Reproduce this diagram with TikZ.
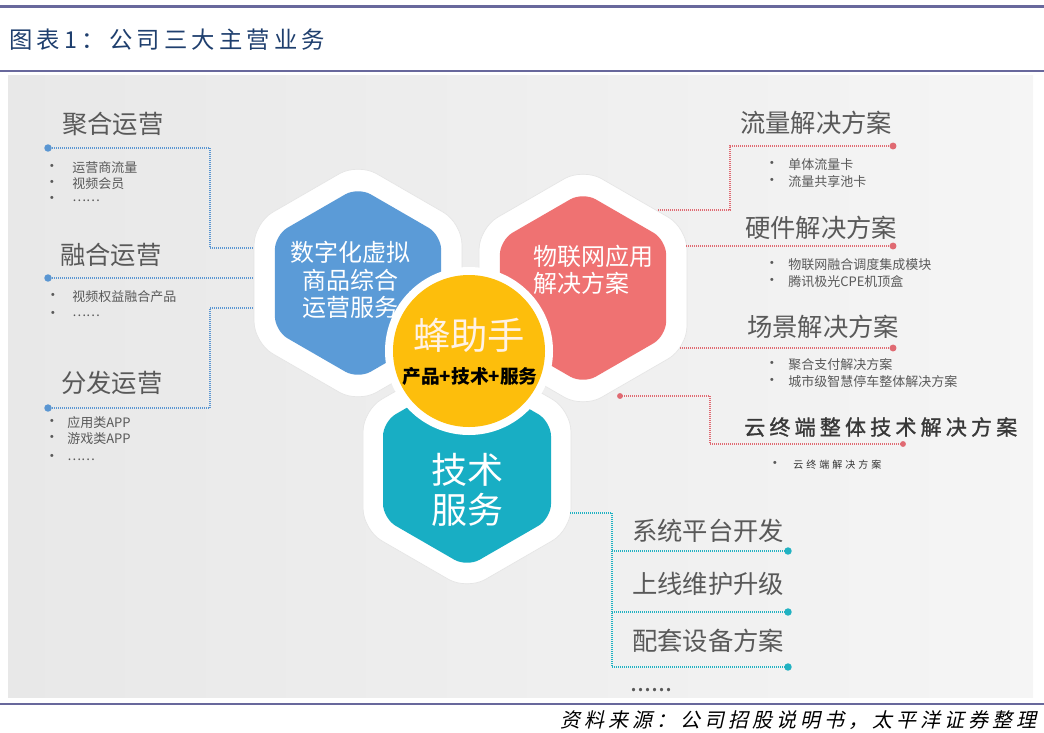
\documentclass[tikz,border=0pt]{standalone}
\usepackage{fontspec}
\newfontfamily\cjk{Noto Sans CJK SC}
\newfontfamily\cjktitle[LetterSpace=18]{Noto Sans CJK SC}
\newfontfamily\cjkfoot[LetterSpace=20,FakeSlant=0.22]{Noto Sans CJK SC}
\newfontfamily\cjkyun[LetterSpace=20,FakeBold=1.2]{Noto Sans CJK SC}
\newfontfamily\cjkyunsmall[LetterSpace=30]{Noto Sans CJK SC}
\definecolor{rulecol}{HTML}{68689C}
\definecolor{titlecol}{HTML}{1F3F6E}
\definecolor{txtgray}{HTML}{595959}
\definecolor{lineblue}{HTML}{5A96D2}
\definecolor{linered}{HTML}{E06A72}
\definecolor{lineteal}{HTML}{22B2C2}
\definecolor{hexblue}{HTML}{5B9BD7}
\definecolor{hexred}{HTML}{EF7272}
\definecolor{hexteal}{HTML}{18AEC4}
\definecolor{hexorange}{HTML}{FDBE0C}
\newcommand\hexpathof[3]{% center coordinate, radius, options
  \path[#3] ([shift={(#1)}]0:{0.866*#2}) -- ([shift={(#1)}]30:#2) -- ([shift={(#1)}]90:#2)
    -- ([shift={(#1)}]150:#2) -- ([shift={(#1)}]210:#2) -- ([shift={(#1)}]270:#2)
    -- ([shift={(#1)}]330:#2) -- cycle;}
\begin{document}
\begin{tikzpicture}[x=0.75pt,y=-0.75pt,
  dotline/.style={line width=1.2pt, dash pattern=on 0.75pt off 0.75pt},
  blueln/.style={dotline, draw=lineblue},
  redln/.style={dotline, draw=linered},
  tealln/.style={dotline, draw=lineteal},
  head/.style={font={\cjk\fontsize{19pt}{22pt}\selectfont}, text=txtgray, anchor=west, inner sep=0pt},
  item/.style={font={\cjk\fontsize{9.75pt}{12pt}\selectfont}, text=txtgray, anchor=west, inner sep=0pt},
  bul/.style={font={\cjk\fontsize{11pt}{12pt}\selectfont}, text=txtgray, inner sep=0pt},
  outerhex/.style={fill=white, draw=black!10, line width=0.5pt, rounded corners=16pt},
  innerhex/.style={rounded corners=11pt},
  hextext/.style={font={\cjk\fontsize{18pt}{20.6pt}\selectfont}, text=white, inner sep=0pt},
]
\path[use as bounding box] (0,0) rectangle (1044,732);
% rules and panel
\draw[rulecol, line width=2.3pt] (0,6.5) -- (1044,6.5);
\draw[rulecol, line width=1.8pt] (0,71) -- (1044,71);
\draw[rulecol, line width=1.8pt] (0,704) -- (1044,704);
\shade[left color=black!9, right color=black!4] (8,75) rectangle (1033,697);
\node[font={\cjktitle\fontsize{17.5pt}{19pt}\selectfont}, text=titlecol, anchor=west, inner sep=0pt] (title) at (9,40) {图表1：公司三大主营业务};
\node[font={\cjkfoot\fontsize{15pt}{17pt}\selectfont}, text=black, anchor=east, inner sep=0pt] (source) at (1037,720) {资料来源：公司招股说明书，太平洋证券整理};

% hex centers
\coordinate (hb) at (358,283);
\coordinate (hr) at (583,288);
\coordinate (ht) at (467,470);
\coordinate (cc) at (469,351);

% outer white hexes
\hexpathof{hb}{120}{outerhex}
\hexpathof{hr}{120}{outerhex}
\hexpathof{ht}{120}{outerhex}
% inner coloured hexes
\hexpathof{hb}{96}{innerhex, fill=hexblue}
\hexpathof{hr}{96}{innerhex, fill=hexred}
\hexpathof{ht}{97}{innerhex, fill=hexteal}

\node[hextext, align=center] (tb) at (350,280) {数字化虚拟\\商品综合\\运营服务};
\node[hextext, align=left, anchor=west] (tr) at (533,270) {物联网应用\\解决方案};
\node[hextext, align=center, font={\cjk\fontsize{27pt}{30pt}\selectfont}] (tt) at (467,490) {技术\\服务};

% centre circle
\fill[white] (cc) circle (63pt);
\fill[hexorange] (cc) circle (57pt);
\node[font={\cjk\fontsize{28pt}{30pt}\selectfont}, text=white!90!orange, inner sep=0pt] (cbig) at (469,335) {蜂助手};
\node[font={\cjk\bfseries\fontsize{14pt}{16pt}\selectfont}, text=black, inner sep=0pt] (csmall) at (470,376) {产品+技术+服务};

% ---------- left (blue) ----------
\node[head] (h1) at (62,124) {聚合运营};
\node[head] (h2) at (60,255) {融合运营};
\node[head] (h3) at (61,383) {分发运营};

\node[bul] (b11) at (52,168) {•};
\node[item] (i11) at (72,168) {运营商流量};
\node[bul] (b12) at (52,184) {•};
\node[item] (i12) at (72,184) {视频会员};
\node[bul] (b13) at (52,200) {•};
\node[item] (i13) at (72,201) {……};

\node[bul] (b21) at (53,297) {•};
\node[item] (i21) at (72,297) {视频权益融合产品};
\node[bul] (b22) at (53,315) {•};
\node[item] (i22) at (72,316) {……};

\node[bul] (b31) at (52,423) {•};
\node[item] (i31) at (67,423) {应用类APP};
\node[bul] (b32) at (52,439) {•};
\node[item] (i32) at (67,439) {游戏类APP};
\node[bul] (b33) at (52,458) {•};
\node[item] (i33) at (67,460) {……};

\coordinate (lA) at (48,148);
\coordinate (lAk) at (210,148);
\coordinate (lAj) at (210,248);
\coordinate (lAe) at (253,248);
\coordinate (lB) at (48,278);
\coordinate (lBe) at (253,278);
\coordinate (lC) at (48,408);
\coordinate (lCk) at (210,408);
\coordinate (lCj) at (210,308);
\coordinate (lCe) at (253,308);
\draw[blueln] (lA) -- (lAk) -- (lAj) -- (lAe);
\draw[blueln] (lB) -- (lBe);
\draw[blueln] (lC) -- (lCk) -- (lCj) -- (lCe);
\fill[lineblue] (lA) circle (2.8pt);
\fill[lineblue] (lB) circle (2.8pt);
\fill[lineblue] (lC) circle (2.8pt);

% ---------- right (red) ----------
\node[head] (r1) at (740,123) {流量解决方案};
\node[head] (r2) at (745,228) {硬件解决方案};
\node[head] (r3) at (747,327) {场景解决方案};
\node[font={\cjkyun\fontsize{15.75pt}{18pt}\selectfont}, text=black!78, anchor=west, inner sep=0pt] (r4) at (744,427) {云终端整体技术解决方案};

\node[bul] (rb11) at (772,165) {•};
\node[item] (ri11) at (788,165) {单体流量卡};
\node[bul] (rb12) at (772,182) {•};
\node[item] (ri12) at (788,182) {流量共享池卡};
\node[bul] (rb21) at (772,265) {•};
\node[item] (ri21) at (788,265) {物联网融合调度集成模块};
\node[bul] (rb22) at (772,282) {•};
\node[item] (ri22) at (788,282) {腾讯极光CPE机顶盒};
\node[bul] (rb31) at (772,365) {•};
\node[item] (ri31) at (788,365) {聚合支付解决方案};
\node[bul] (rb32) at (772,382) {•};
\node[item] (ri32) at (788,382) {城市级智慧停车整体解决方案};
\node[bul] (rb41) at (775,465) {•};
\node[font={\cjkyunsmall\fontsize{7.5pt}{9pt}\selectfont}, text=black!80, anchor=west, inner sep=0pt] (ri41) at (793,465) {云终端解决方案};

\coordinate (rA) at (893,146);
\coordinate (rAk) at (730,146);
\coordinate (rAj) at (730,210);
\coordinate (rAe) at (657,210);
\coordinate (rB) at (893,246);
\coordinate (rBe) at (685,246);
\coordinate (rC) at (893,348);
\coordinate (rCe) at (680,348);
\coordinate (rD) at (620,396);
\coordinate (rDk) at (710,396);
\coordinate (rDj) at (710,444);
\coordinate (rDe) at (903,444);
\draw[redln] (rA) -- (rAk) -- (rAj) -- (rAe);
\draw[redln] (rB) -- (rBe);
\draw[redln] (rC) -- (rCe);
\draw[redln] (rD) -- (rDk) -- (rDj) -- (rDe);
\fill[linered] (rA) circle (2.6pt);
\fill[linered] (rB) circle (2.6pt);
\fill[linered] (rC) circle (2.6pt);
\fill[linered] (rD) circle (2.2pt);
\fill[linered] (rDe) circle (2.2pt);

% ---------- bottom right (teal) ----------
\node[head] (t1) at (632,531) {系统平台开发};
\node[head] (t2) at (632,584) {上线维护升级};
\node[head] (t3) at (632,641) {配套设备方案};
\node[font={\cjk\fontsize{19pt}{22pt}\selectfont}, text=txtgray, anchor=base west, inner sep=0pt] (t4) at (630,691) {......};

\coordinate (tS) at (570,513);
\coordinate (tK) at (612,513);
\coordinate (tJ1) at (612,551);
\coordinate (tJ2) at (612,612);
\coordinate (tJ3) at (612,667);
\coordinate (tE1) at (788,551);
\coordinate (tE2) at (788,612);
\coordinate (tE3) at (788,667);
\draw[tealln] (tS) -- (tK) -- (tJ3);
\draw[tealln] (tJ1) -- (tE1);
\draw[tealln] (tJ2) -- (tE2);
\draw[tealln] (tJ3) -- (tE3);
\fill[lineteal] (tE1) circle (2.8pt);
\fill[lineteal] (tE2) circle (2.8pt);
\fill[lineteal] (tE3) circle (2.8pt);
\end{tikzpicture}
\end{document}
